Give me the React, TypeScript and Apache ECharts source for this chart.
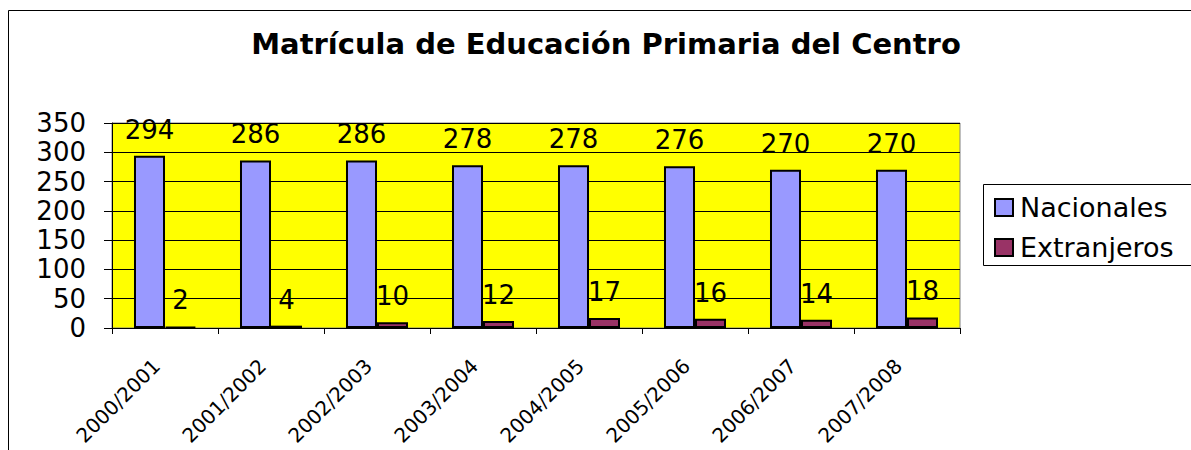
import React, { useEffect, useRef } from "react";
import * as echarts from "echarts";

const categories = ["2000/2001", "2001/2002", "2002/2003", "2003/2004", "2004/2005", "2005/2006", "2006/2007", "2007/2008"];
const nacionales = [294, 286, 286, 278, 278, 276, 270, 270];
const extranjeros = [2, 4, 10, 12, 17, 16, 14, 18];
const yTicks = { min: 0, max: 350, interval: 50 };
const titleText = "Matrícula de Educación Primaria del Centro";
const seriesNames = ["Nacionales", "Extranjeros"];

const FONT = "'DejaVu Sans', 'Liberation Sans', Arial, sans-serif";

export default function App() {
  const ref = useRef<HTMLDivElement>(null);
  useEffect(() => {
    if (!ref.current) return;
    const chart = echarts.init(ref.current, null, { renderer: "svg" });
    const barLabel = {
      show: true,
      position: "top" as const,
      distance: 13,
      fontSize: 26,
      fontFamily: FONT,
      color: "#000",
    };
    chart.setOption({
      animation: false,
      backgroundColor: "#fff",
      textStyle: { fontFamily: FONT },
      graphic: [
        {
          type: "rect",
          z: -10,
          shape: { x: 8.5, y: 10.5, width: 1400, height: 700 },
          style: { fill: "none", stroke: "#000", lineWidth: 1 },
        },
        {
          type: "rect",
          shape: { x: 983.5, y: 184.5, width: 400, height: 81 },
          style: { fill: "#fff", stroke: "#000", lineWidth: 1 },
          z: 0,
        },
        {
          type: "text",
          x: 606,
          y: 44,
          style: {
            text: titleText,
            align: "center",
            verticalAlign: "middle",
            font: `bold 29px ${FONT}`,
            fill: "#000",
          },
        },
      ],
      grid: {
        left: 112,
        top: 123,
        right: 1191 - 960,
        bottom: 450 - 328,
        show: true,
        backgroundColor: "#ffff00",
        borderColor: "#808080",
        borderWidth: 1,
      },
      legend: {
        orient: "vertical",
        left: 994,
        top: 194,
        padding: 0,
        itemWidth: 18,
        itemHeight: 17,
        itemGap: 13,
        icon: "rect",
        z: 5,
        textStyle: { fontSize: 27, fontFamily: FONT, color: "#000", padding: [0, 0, 0, 2], lineHeight: 27 },
        data: seriesNames,
      },
      xAxis: {
        type: "category",
        data: categories,
        axisLine: { lineStyle: { color: "#000", width: 1 } },
        axisTick: { show: true, length: 6, lineStyle: { color: "#000" } },
        axisLabel: {
          rotate: 45,
          fontSize: 20,
          color: "#000",
          margin: 26,
          interval: 0,
          padding: [0, 12, 34, 0],
        },
      },
      yAxis: {
        type: "value",
        min: yTicks.min,
        max: yTicks.max,
        interval: yTicks.interval,
        axisLine: { show: true, lineStyle: { color: "#000", width: 1 } },
        axisTick: { show: true, length: 8, lineStyle: { color: "#000" } },
        axisLabel: { fontSize: 26, color: "#000", margin: 26 },
        splitLine: { show: true, lineStyle: { color: "#000", width: 1 } },
      },
      series: [
        {
          name: seriesNames[0],
          type: "bar",
          data: nacionales,
          barGap: "0%",
          barCategoryGap: "41.5%",
          itemStyle: { color: "#9999ff", borderColor: "#000", borderWidth: 2 },
          label: barLabel,
        },
        {
          name: seriesNames[1],
          type: "bar",
          data: extranjeros,
          barGap: "0%",
          barCategoryGap: "41.5%",
          itemStyle: { color: "#993366", borderColor: "#000", borderWidth: 2 },
          label: barLabel,
        },
      ],
    });
    return () => chart.dispose();
  }, []);
  return (
    <div
      ref={ref}
      style={{ position: "absolute", left: 0, top: 0, width: 1191, height: 450 }}
    />
  );
}
